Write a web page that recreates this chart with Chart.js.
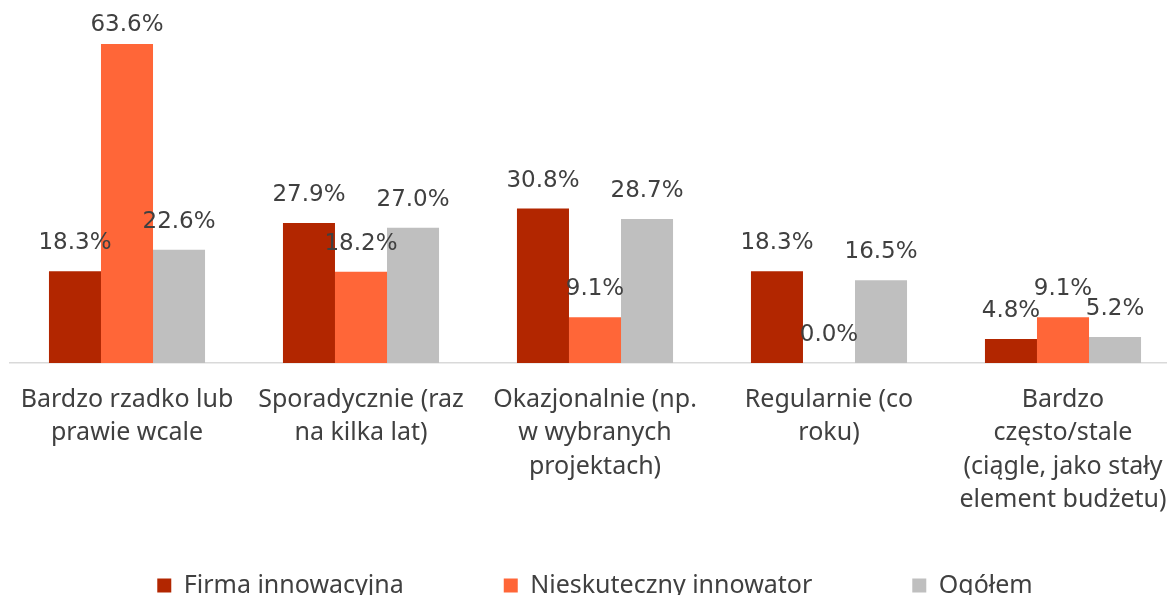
<!DOCTYPE html>
<html>
<head>
<meta charset="utf-8">
<script src="https://cdn.jsdelivr.net/npm/chart.js@4.4.1/dist/chart.umd.min.js"></script>
<style>
  html, body { margin: 0; padding: 0; background: #fff; overflow: hidden; }
  #wrap { width: 1180px; height: 658px; }
</style>
</head>
<body>
<div id="wrap"><canvas id="myChart"></canvas></div>
<script>
const categories = [
  ["Bardzo rzadko lub", "prawie wcale"],
  ["Sporadycznie (raz", "na kilka lat)"],
  ["Okazjonalnie (np.", "w wybranych", "projektach)"],
  ["Regularnie (co", "roku)"],
  ["Bardzo", "często/stale", "(ciągle, jako stały", "element budżetu)"]
];
const seriesNames = ["Firma innowacyjna", "Nieskuteczny innowator", "Ogółem"];
const firmaInnowacyjna = [18.3, 27.9, 30.8, 18.3, 4.8];
const nieskutecznyInnowator = [63.6, 18.2, 9.1, 0.0, 9.1];
const ogolem = [22.6, 27.0, 28.7, 16.5, 5.2];
const colors = ["#B22600", "#FF6638", "#BFBFBF"];

// etykiety wartości nad słupkami
const valueLabels = {
  id: "valueLabels",
  afterDatasetsDraw(chart) {
    const ctx = chart.ctx;
    ctx.save();
    ctx.font = "23px 'DejaVu Sans', sans-serif";
    ctx.fillStyle = "#404040";
    ctx.textAlign = "center";
    ctx.textBaseline = "middle";
    chart.data.datasets.forEach((ds, i) => {
      chart.getDatasetMeta(i).data.forEach((bar, j) => {
        const y = Math.max(bar.y - 28, 25);
        ctx.fillText(ds.data[j].toFixed(1) + "%", bar.x, y);
      });
    });
    ctx.restore();
  }
};

// legenda podciągnięta pod etykiety osi (duży odstęp poziomy = duży padding)
const legendShift = {
  id: "legendShift",
  afterLayout(chart) {
    const lg = chart.legend;
    const top = chart.chartArea.bottom + 110;
    lg.bottom = top + lg.height;
    lg.top = top;
  }
};

const ctx = document.getElementById("myChart").getContext("2d");
const myChart = new Chart(ctx, {
  type: "bar",
  data: {
    labels: categories,
    datasets: [
      { label: seriesNames[0], data: firmaInnowacyjna, backgroundColor: colors[0] },
      { label: seriesNames[1], data: nieskutecznyInnowator, backgroundColor: colors[1] },
      { label: seriesNames[2], data: ogolem, backgroundColor: colors[2] }
    ]
  },
  options: {
    responsive: true,
    maintainAspectRatio: false,
    animation: false,
    layout: { padding: { left: 10, top: 0, right: 0, bottom: 0 } },
    datasets: {
      bar: { categoryPercentage: 0.667, barPercentage: 1.0 }
    },
    scales: {
      x: {
        grid: { display: false },
        border: { display: true, color: "#D9D9D9", width: 1.5 },
        ticks: {
          color: "#404040",
          font: { family: "'Noto Sans', sans-serif", size: 25, lineHeight: 1.34 },
          maxRotation: 0,
          autoSkip: false,
          padding: 12
        },
        afterFit(scale) {
          scale.height = 160;
        }
      },
      y: {
        display: false,
        min: 0,
        max: 72.4
      }
    },
    plugins: {
      legend: {
        position: "bottom",
        labels: {
          color: "#404040",
          font: { family: "'Noto Sans', sans-serif", size: 25 },
          boxWidth: 14,
          boxHeight: 14,
          padding: 100
        }
      },
      tooltip: { enabled: false }
    }
  },
  plugins: [valueLabels, legendShift]
});
</script>
</body>
</html>
